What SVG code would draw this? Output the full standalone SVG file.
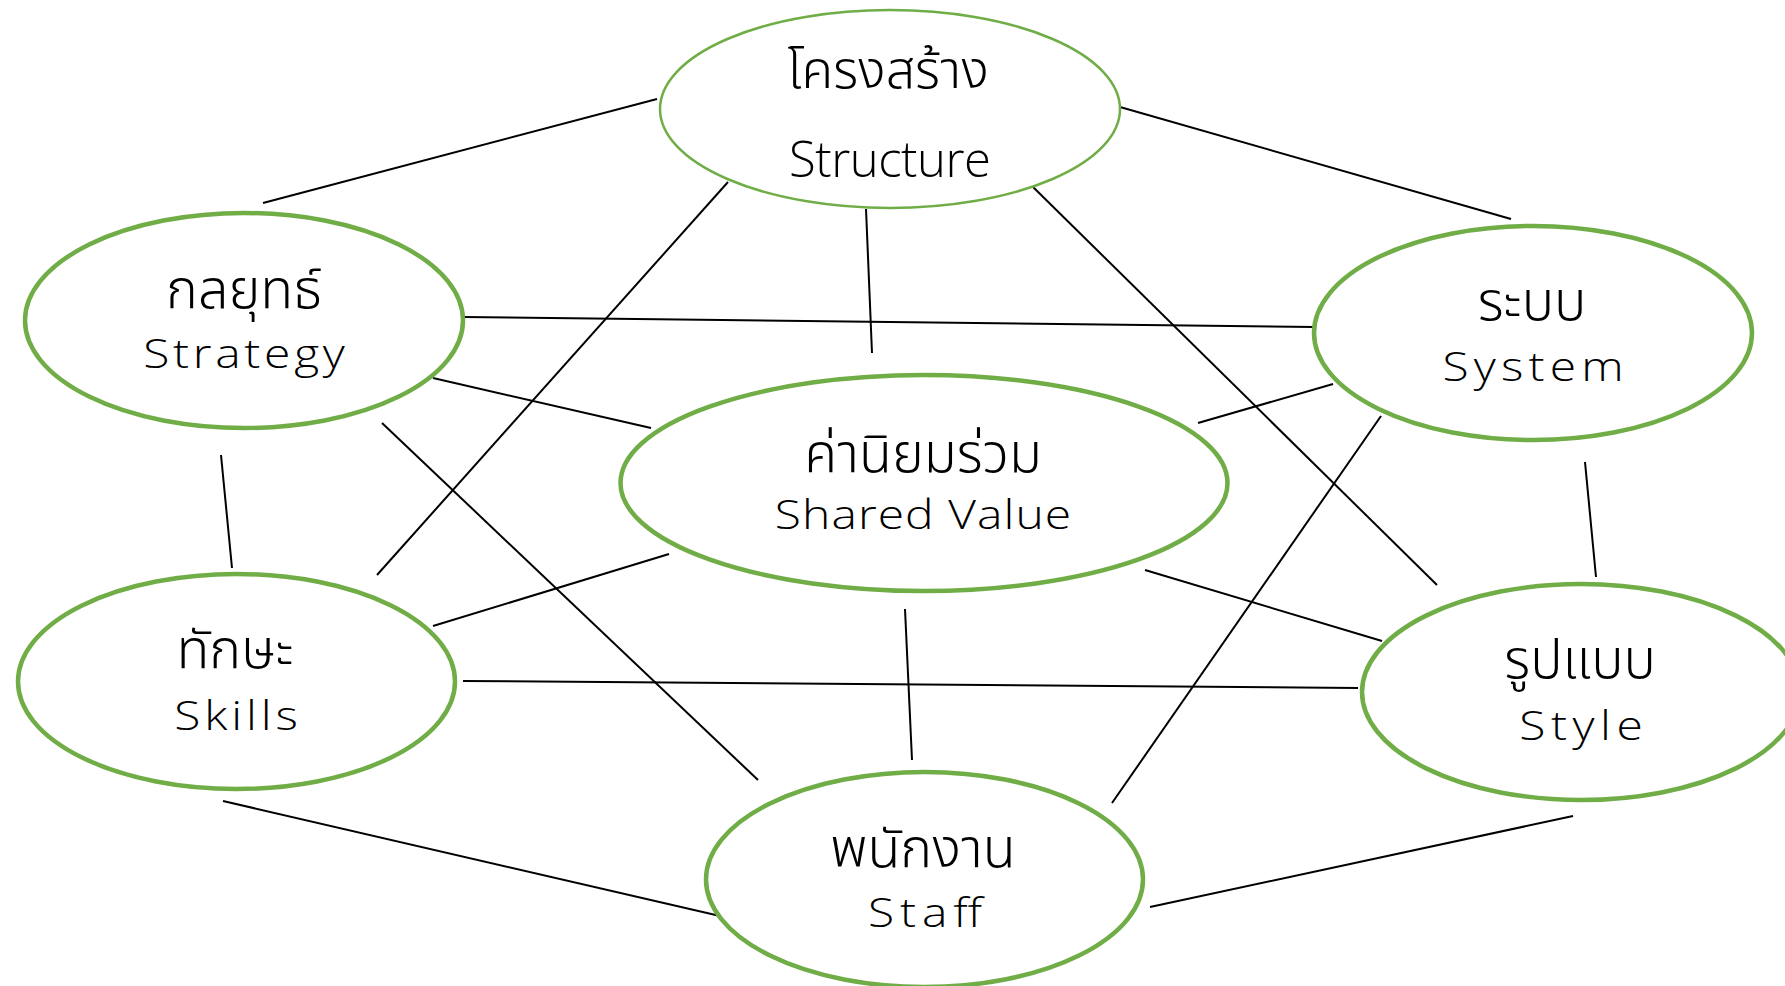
<svg xmlns="http://www.w3.org/2000/svg" width="1785" height="986" viewBox="0 0 1785 986">
  <style>
    .bg { fill: #ffffff; }
    .node { fill: #ffffff; stroke: #70AD47; stroke-width: 4.5; }
    .node.thin { stroke-width: 2.5; }
    .edge { stroke: #000000; stroke-width: 2; fill: none; }
    .th { font-family: "Noto Sans Thai", "Noto Sans", "DejaVu Sans", sans-serif; font-size: 54px; font-weight: 300; fill: #000; text-anchor: middle; }
    .en { font-family: "Open Sans", "Noto Sans", sans-serif; font-size: 40px; font-weight: 300; fill: #000; text-anchor: middle; }
    .th-lg { font-family: "Noto Sans Thai", "Noto Sans", "Open Sans", sans-serif; font-size: 52px; font-weight: 300; fill: #000; text-anchor: middle; }
    .en-lg { font-family: "Open Sans", "Noto Sans", sans-serif; font-size: 49px; font-weight: 300; fill: #000; text-anchor: middle; }
  </style>
  <rect class="bg" x="0" y="0" width="1785" height="986"/>

  <g id="connectors">
    <line class="edge" x1="263" y1="203" x2="657" y2="99"/>
    <line class="edge" x1="1120" y1="107" x2="1511" y2="219"/>
    <line class="edge" x1="463" y1="317" x2="1314" y2="327"/>
    <line class="edge" x1="728" y1="182" x2="377" y2="575"/>
    <line class="edge" x1="866" y1="209" x2="872" y2="353"/>
    <line class="edge" x1="1033" y1="187" x2="1437" y2="585"/>
    <line class="edge" x1="433" y1="378" x2="651" y2="428"/>
    <line class="edge" x1="1198" y1="423" x2="1333" y2="384"/>
    <line class="edge" x1="382" y1="423" x2="758" y2="780"/>
    <line class="edge" x1="1381" y1="416" x2="1112" y2="803"/>
    <line class="edge" x1="221" y1="455" x2="232" y2="568"/>
    <line class="edge" x1="1585" y1="462" x2="1596" y2="577"/>
    <line class="edge" x1="433" y1="626" x2="669" y2="554"/>
    <line class="edge" x1="1145" y1="570" x2="1382" y2="641"/>
    <line class="edge" x1="463" y1="681" x2="1358" y2="688"/>
    <line class="edge" x1="905" y1="609" x2="912" y2="760"/>
    <line class="edge" x1="223" y1="801" x2="720" y2="916"/>
    <line class="edge" x1="1573" y1="816" x2="1150" y2="907"/>
  </g>

  <g id="structure">
    <ellipse class="node thin" cx="890" cy="109" rx="230" ry="99"/>
    <text class="th-lg" x="888" y="88">โครงสร้าง</text>
    <text class="en-lg" x="890" y="177" textLength="202" lengthAdjust="spacing">Structure</text>
  </g>

  <!-- English labels are widened with a horizontal scale; textLength is in pre-scale units -->
  <g id="strategy">
    <ellipse class="node" cx="244" cy="320.5" rx="219" ry="107.5"/>
    <text class="th" x="244" y="308">กลยุทธ์</text>
    <text class="en" transform="translate(244 368) scale(1.2 1)" x="0" y="0" textLength="168" lengthAdjust="spacing">Strategy</text>
  </g>

  <g id="system">
    <ellipse class="node" cx="1533" cy="333" rx="219" ry="107"/>
    <text class="th" x="1532" y="320">ระบบ</text>
    <text class="en" transform="translate(1533 381) scale(1.2 1)" x="0" y="0" textLength="151" lengthAdjust="spacing">System</text>
  </g>

  <g id="shared-value">
    <ellipse class="node" cx="924" cy="483" rx="303.5" ry="108"/>
    <text class="th" x="923" y="472">ค่านิยมร่วม</text>
    <text class="en" transform="translate(923 529) scale(1.2 1)" x="0" y="0" textLength="247" lengthAdjust="spacing">Shared Value</text>
  </g>

  <g id="skills">
    <ellipse class="node" cx="236.5" cy="681.5" rx="218.5" ry="107.5"/>
    <text class="th" x="235" y="668">ทักษะ</text>
    <text class="en" transform="translate(236 730) scale(1.2 1)" x="0" y="0" textLength="103" lengthAdjust="spacing">Skills</text>
  </g>

  <g id="style">
    <ellipse class="node" cx="1581" cy="692" rx="219" ry="108"/>
    <text class="th" x="1580" y="678">รูปแบบ</text>
    <text class="en" transform="translate(1581 740) scale(1.2 1)" x="0" y="0" textLength="103" lengthAdjust="spacing">Style</text>
  </g>

  <g id="staff">
    <ellipse class="node" cx="924.5" cy="879.5" rx="218.5" ry="107.5"/>
    <text class="th" x="923" y="867">พนักงาน</text>
    <text class="en" transform="translate(925 927) scale(1.2 1)" x="0" y="0" textLength="95" lengthAdjust="spacing">Staff</text>
  </g>
</svg>
